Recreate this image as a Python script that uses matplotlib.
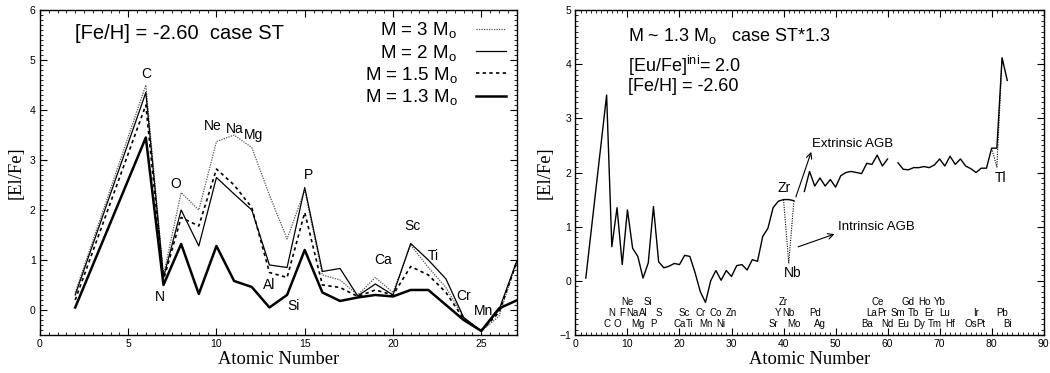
import numpy as np
import matplotlib
matplotlib.use('Agg')
from matplotlib import pyplot as plt
from matplotlib.ticker import MultipleLocator

plt.rcParams['font.family'] = ['Liberation Sans', 'DejaVu Sans']
plt.rcParams['mathtext.default'] = 'regular'

# left panel: [El/Fe] vs Z for four masses
z_left = [2, 6, 7, 8, 9, 10, 11, 12, 13, 14, 15, 16, 17, 18, 19, 20, 21, 22, 23, 24, 25, 26, 27]
m30 = [0.35, 4.50, 0.70, 2.35, 2.00, 3.37, 3.50, 3.25, 2.30, 1.42, 2.40, 0.70, 0.60, 0.30,
       0.65, 0.35, 1.30, 0.85, 0.45, -0.15, -0.42, -0.13, 0.95]
m20 = [0.30, 4.35, 0.65, 2.00, 1.28, 2.65, 2.32, 2.00, 0.90, 0.85, 2.45, 0.77, 0.83, 0.28,
       0.52, 0.30, 1.33, 1.00, 0.62, -0.15, -0.42, 0.00, 0.97]
m15 = [0.20, 4.10, 0.60, 1.85, 1.68, 2.82, 2.50, 2.05, 0.75, 0.65, 1.95, 0.50, 0.45, 0.27,
       0.40, 0.30, 0.87, 0.70, 0.35, -0.18, -0.42, -0.05, 0.95]
m13 = [0.05, 3.45, 0.50, 1.32, 0.32, 1.28, 0.58, 0.46, 0.05, 0.30, 1.20, 0.35, 0.18, 0.25,
       0.30, 0.27, 0.40, 0.40, 0.10, -0.20, -0.42, 0.03, 0.19]

left_names = ['C', 'N', 'O', 'Ne', 'Na', 'Mg', 'Al', 'Si', 'P', 'Ca', 'Sc', 'Ti', 'Cr', 'Mn']
left_name_x = [6.0, 6.8, 7.7, 9.8, 11.05, 12.1, 13.0, 14.35, 15.2, 19.45, 21.1, 22.3, 24.0, 25.1]
left_name_y = [4.72, 0.25, 2.53, 3.68, 3.63, 3.50, 0.49, 0.08, 2.70, 0.99, 1.68, 1.08, 0.28, -0.02]

# right panel: M ~ 1.3 Msun, case ST*1.3
z_right = [2] + list(range(6, 84))
el_right = [0.05,
            3.43, 0.63, 1.35, 0.30, 1.31, 0.60, 0.45, 0.05, 0.33, 1.37,        # 6-15
            0.35, 0.24, 0.27, 0.32, 0.30, 0.47, 0.45, 0.15, -0.20, -0.40,      # 16-25
            0.00, 0.19, 0.01, 0.19, 0.08, 0.28, 0.30, 0.20, 0.39, 0.36,        # 26-35
            0.82, 0.97, 1.35, 1.47, 1.50, 1.50, 1.48, np.nan, 1.65, 2.02,      # 36-45
            1.75, 1.90, 1.75, 1.87, 1.73, 1.94, 2.00, 2.02, 2.00, 1.98,        # 46-55
            2.17, 2.15, 2.32, 2.12, 2.25, np.nan, 2.18, 2.06, 2.05, 2.09,      # 56-65
            2.09, 2.11, 2.09, 2.14, 2.25, 2.12, 2.30, 2.15, 2.25, 2.12,        # 66-75
            2.07, 2.00, 2.08, 2.08, 2.45, 2.45, 4.12, 3.70]                    # 76-83
nb_z = [40, 41, 42]
nb_dip = [1.50, 0.33, 1.48]
tl_z = [80, 81, 82]
tl_dip = [2.45, 2.10, 4.12]

row1 = ['Ne', 'Si', 'Zr', 'Ce', 'Gd', 'Ho', 'Yb']
row1_z = [10, 14, 40, 58, 64, 67, 70]
row2 = ['N', 'F', 'Na', 'Al', 'S', 'Sc', 'Cr', 'Co', 'Zn', 'Y', 'Nb', 'Pd',
        'La', 'Pr', 'Sm', 'Tb', 'Er', 'Lu', 'Ir', 'Pb']
row2_z = [7, 9, 11, 13, 16, 21, 24, 27, 30, 39, 41, 46, 57, 59, 62, 65, 68, 71, 77, 82]
row3 = ['C', 'O', 'Mg', 'P', 'Ca', 'Ti', 'Mn', 'Ni', 'Sr', 'Mo', 'Ag',
        'Ba', 'Nd', 'Eu', 'Dy', 'Tm', 'Hf', 'Os', 'Pt', 'Bi']
row3_z = [6, 8, 12, 15, 20, 22, 25, 28, 38, 42, 47, 56, 60, 63, 66, 69, 72, 76, 78, 83]

fig = plt.figure(figsize=(10.5, 3.73), dpi=100)
ax1 = fig.add_axes([0.038, 0.102, 0.454, 0.871])
ax2 = fig.add_axes([0.548, 0.102, 0.446, 0.871])

serif = ['Liberation Serif', 'DejaVu Serif']

# ---- left
ax1.plot(z_left, m30, color='#555555', lw=0.9, ls=(0, (1, 1)), label='M = 3 M$_o$')
ax1.plot(z_left, m20, color='black', lw=0.9, label='M = 2 M$_o$')
ax1.plot(z_left, m15, color='black', lw=1.2, ls=(0, (2, 2)), label='M = 1.5 M$_o$')
ax1.plot(z_left, m13, color='black', lw=1.8, label='M = 1.3 M$_o$')
for n, x, y in zip(left_names, left_name_x, left_name_y):
    ax1.text(x, y, n, fontsize=10, ha='center', va='center')
ax1.text(2.0, 5.54, '[Fe/H] = -2.60  case ST', fontsize=14.5, ha='left', va='center')
ax1.legend(loc='upper right', frameon=False, markerfirst=False, fontsize=13.5,
           handlelength=1.6, labelspacing=0.12, borderaxespad=0.25, handletextpad=1.0,
           borderpad=0.3)
ax1.set_xlim(0, 27)
ax1.set_ylim(-0.5, 6)
ax1.xaxis.set_major_locator(MultipleLocator(5))
ax1.xaxis.set_minor_locator(MultipleLocator(0.5))
ax1.yaxis.set_major_locator(MultipleLocator(1))
ax1.yaxis.set_minor_locator(MultipleLocator(0.1))
ax1.set_xlabel('Atomic Number', family=serif, fontsize=13.3, labelpad=1)
ax1.set_ylabel('[El/Fe]', family=serif, fontsize=13.3, labelpad=4)

# ---- right
ax2.plot(z_right, el_right, color='black', lw=1.0)
ax2.plot(nb_z, nb_dip, color='black', lw=0.8, ls=(0, (1, 1.2)))
ax2.plot(tl_z, tl_dip, color='black', lw=0.8, ls=(0, (1, 1.2)))
for names, zs, yy in [(row1, row1_z, -0.39), (row2, row2_z, -0.60), (row3, row3_z, -0.80)]:
    for n, z in zip(names, zs):
        ax2.text(z, yy, n, fontsize=7, ha='center', va='center')
ax2.text(40.1, 1.72, 'Zr', fontsize=10, ha='center', va='center')
ax2.text(41.8, 0.15, 'Nb', fontsize=10, ha='center', va='center')
ax2.text(81.7, 1.90, 'Tl', fontsize=10, ha='center', va='center')
ax2.annotate('', xy=(45.5, 2.43), xytext=(42.2, 1.50),
             arrowprops=dict(arrowstyle='->', lw=0.8, color='black'))
ax2.text(45.4, 2.53, 'Extrinsic AGB', fontsize=9.5, ha='left', va='center')
ax2.annotate('', xy=(50.3, 0.88), xytext=(42.3, 0.61),
             arrowprops=dict(arrowstyle='->', lw=0.8, color='black'))
ax2.text(50.5, 1.00, 'Intrinsic AGB', fontsize=9.5, ha='left', va='center')
ax2.text(10.1, 4.53, 'M ~ 1.3 M$_o$   case ST*1.3', fontsize=13, ha='left', va='center')
ax2.text(10.1, 3.97, '[Eu/Fe]$^{ini}$= 2.0', fontsize=13, ha='left', va='center')
ax2.text(10.1, 3.58, '[Fe/H] = -2.60', fontsize=13, ha='left', va='center')
ax2.set_xlim(0, 90)
ax2.set_ylim(-1, 5)
ax2.xaxis.set_major_locator(MultipleLocator(10))
ax2.xaxis.set_minor_locator(MultipleLocator(1))
ax2.yaxis.set_major_locator(MultipleLocator(1))
ax2.yaxis.set_minor_locator(MultipleLocator(0.1))
ax2.set_xlabel('Atomic Number', family=serif, fontsize=13.3, labelpad=1)
ax2.set_ylabel('[El/Fe]', family=serif, fontsize=13.3, labelpad=4)

for ax in (ax1, ax2):
    ax.tick_params(which='both', direction='in', top=True, right=True, labelsize=7.5, pad=3)
    ax.tick_params(which='major', length=5, width=0.8)
    ax.tick_params(which='minor', length=2.5, width=0.6)
    for s in ax.spines.values():
        s.set_linewidth(1.0)

fig.savefig('out.png', dpi=100)
